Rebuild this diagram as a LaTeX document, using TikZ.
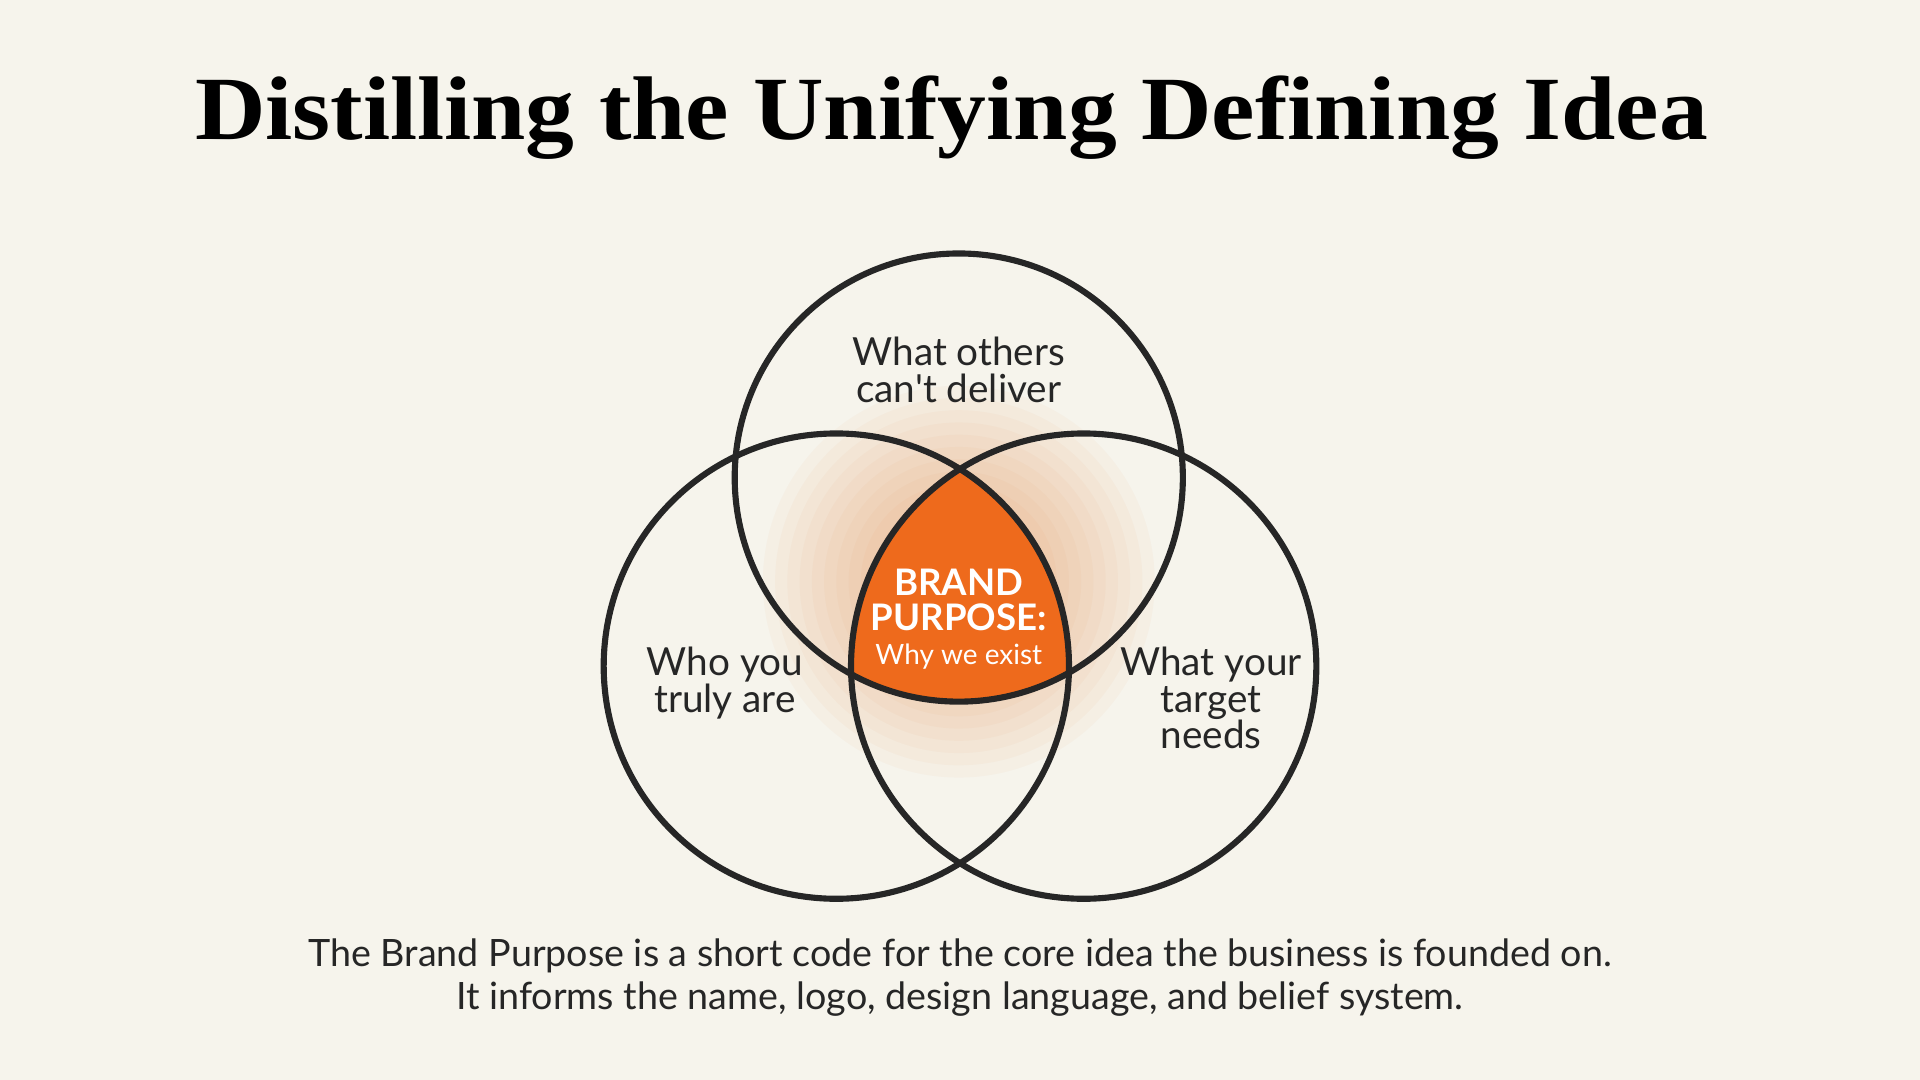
\documentclass[tikz,border=0pt]{standalone}
\usepackage{fontspec}
\setmainfont{Liberation Serif}
\newfontfamily\lab{Lato}
\definecolor{bg}{HTML}{F6F4EC}
\definecolor{org}{HTML}{EE6A1C}
\definecolor{ink}{HTML}{262626}
\begin{document}
\begin{tikzpicture}[x=0.02cm,y=-0.02cm,
  ring/.style={draw=ink,line width=0.1cm},
  lbl/.style={font=\lab\fontsize{18}{20}\selectfont,text=ink,align=center}]
\fill[bg] (0,0) rectangle (1568,882);
\useasboundingbox (0,0) rectangle (1568,882);
\node[font=\fontsize{42}{46}\selectfont\bfseries,xscale=1.08] (title) at (777,96) {Distilling the Unifying Defining Idea};
% glow
\foreach \r in {160,150,...,50}
  \fill[org,opacity=0.035] (783,475) circle (\r);
% intersection fill
\begin{scope}
\clip (783,390) circle (183);
\clip (683,544) circle (190);
\fill[org] (885,544) circle (190);
\end{scope}
\draw[ring] (783,390) circle (183) coordinate (ct);
\draw[ring] (683,544) circle (190) coordinate (cl);
\draw[ring] (885,544) circle (190) coordinate (cr);
\node[lbl] (top) at (783,302) {What others\\[-3pt]can't deliver};
\node[lbl] (left) at (592,558) {Who you\\[-3pt]truly are};
\node[lbl] (right) at (989,570) {What your\\[-3pt]target\\[-3pt]needs};
\node[lbl,text=white,font=\lab\bfseries\fontsize{17}{18}\selectfont] (bp) at (783,490) {BRAND\\[-2pt]PURPOSE:};
\node[lbl,text=white,font=\lab\fontsize{13}{15}\selectfont] (why) at (783,536) {Why we exist};
\node[lbl,font=\lab\fontsize{17.5}{20}\selectfont] (cap) at (784,798) {The Brand Purpose is a short code for the core idea the business is founded on.\\It informs the name, logo, design language, and belief system.};
\end{tikzpicture}
\end{document}
